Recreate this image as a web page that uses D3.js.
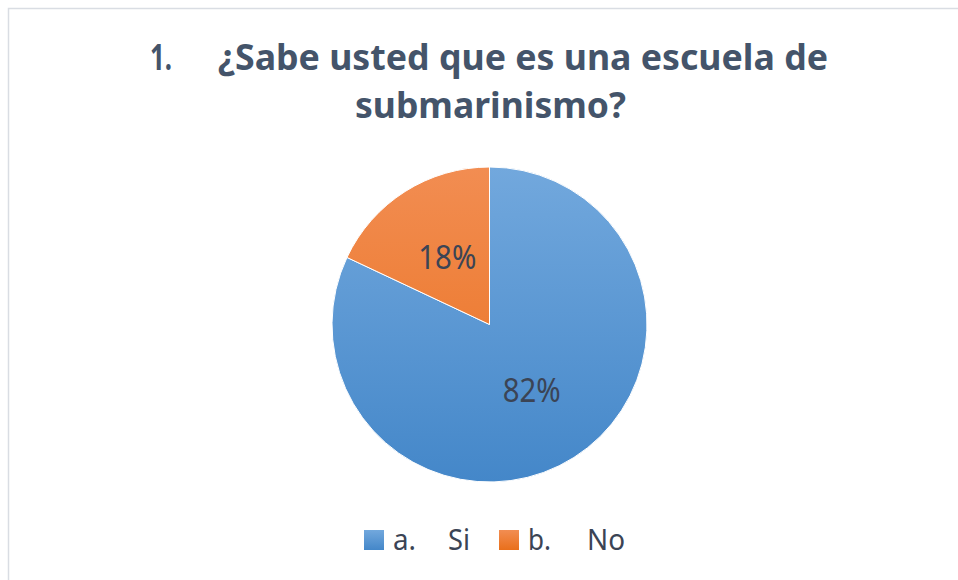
<!DOCTYPE html>
<html>
<head>
<meta charset="utf-8">
<script src="https://cdn.jsdelivr.net/npm/d3@7"></script>
<style>
  body { margin: 0; background: #fff; }
  text { font-family: "Noto Sans", "Open Sans", sans-serif; }
</style>
</head>
<body>
<svg id="s" width="958" height="580"></svg>
<script>
// data
var categories = ["a.", "b."];
var names = ["Si", "No"];
var values = [82, 18];
var labels = ["82%", "18%"];
var topColors = ["#72a8dd", "#f28d52"];
var bottomColors = ["#4487c9", "#e96f1b"];

var svg = d3.select("#s");
var defs = svg.append("defs");

// chart frame
svg.append("rect")
  .attr("x", 8.5).attr("y", 8.5)
  .attr("width", 970).attr("height", 600)
  .attr("fill", "#fff")
  .attr("stroke", "#d9dde3").attr("stroke-width", 1.5);

// squeeze a text to a width (Calibri is narrower than what we have)
function squeeze(sel, w) {
  sel.attr("textLength", w).attr("lengthAdjust", "spacingAndGlyphs");
}

var title = svg.append("g").attr("fill", "#44546a").attr("font-weight", "bold").attr("font-size", 35);
squeeze(title.append("text").attr("x", 150).attr("y", 70).text("1."), 22);
squeeze(title.append("text").attr("x", 218).attr("y", 70).text("\u00bfSabe usted que es una escuela de"), 610);
squeeze(title.append("text").attr("x", 355).attr("y", 118).text("submarinismo?"), 271);

// pie
var cx = 489.5, cy = 324.5, r = 157.5;
values.forEach(function (v, i) {
  var g = defs.append("linearGradient").attr("id", "grad" + i)
    .attr("gradientUnits", "userSpaceOnUse")
    .attr("x1", 0).attr("y1", -r).attr("x2", 0).attr("y2", r);
  g.append("stop").attr("offset", 0).attr("stop-color", topColors[i]);
  g.append("stop").attr("offset", 1).attr("stop-color", bottomColors[i]);
  var lgr = defs.append("linearGradient").attr("id", "lgrad" + i)
    .attr("x1", 0).attr("y1", 0).attr("x2", 0).attr("y2", 1);
  lgr.append("stop").attr("offset", 0).attr("stop-color", topColors[i]);
  lgr.append("stop").attr("offset", 1).attr("stop-color", bottomColors[i]);
});

var pie = d3.pie().sort(null).value(function (d) { return d; });
var arc = d3.arc().innerRadius(0).outerRadius(r);
var arcs = pie(values);

var pg = svg.append("g").attr("transform", "translate(" + cx + "," + cy + ")");
pg.selectAll("path").data(arcs).enter().append("path")
  .attr("d", arc)
  .attr("fill", function (d, i) { return "url(#grad" + i + ")"; })
  .attr("stroke", "#fff").attr("stroke-width", 1);

var labelArc = d3.arc().innerRadius(r * 0.5).outerRadius(r * 0.5);
pg.selectAll("text.lbl").data(arcs).enter().append("text")
  .attr("class", "lbl")
  .attr("x", function (d) { return labelArc.centroid(d)[0] - 29; })
  .attr("y", function (d) { return labelArc.centroid(d)[1] + 11; })
  .attr("font-size", 32).attr("fill", "#3b4455")
  .attr("textLength", 58).attr("lengthAdjust", "spacingAndGlyphs")
  .text(function (d, i) { return labels[i]; });

// legend
var legendX = [364, 499];
var lg = svg.append("g").attr("font-size", 29).attr("fill", "#3b4455");
categories.forEach(function (c, i) {
  lg.append("rect").attr("x", legendX[i]).attr("y", 530).attr("width", 20).attr("height", 20)
    .attr("fill", "url(#lgrad" + i + ")");
  squeeze(lg.append("text").attr("x", legendX[i] + 29).attr("y", 550).text(c), 23);
  squeeze(lg.append("text").attr("x", legendX[i] + (i === 0 ? 84 : 88)).attr("y", 550).text(names[i]), i === 0 ? 22 : 38);
});
</script>
</body>
</html>
